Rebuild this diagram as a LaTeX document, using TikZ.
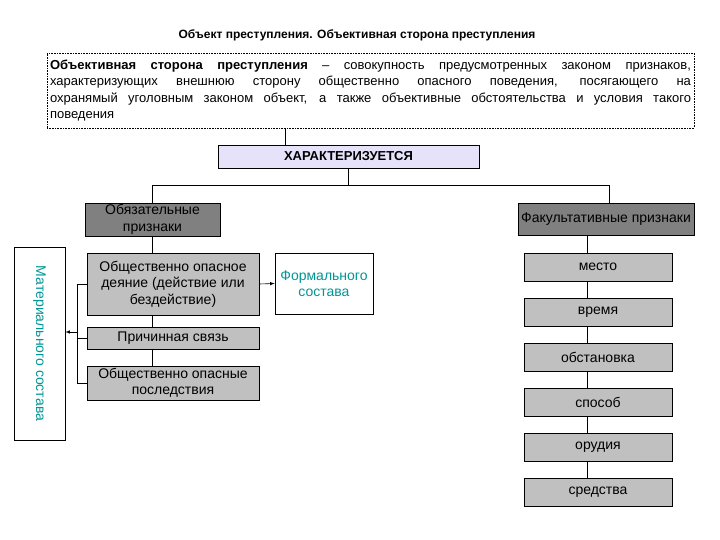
\documentclass[tikz,border=0pt]{standalone}
\usepackage{fontspec}
\setmainfont{Liberation Sans}
\usetikzlibrary{calc}
\definecolor{c1}{RGB}{128,128,128}
\definecolor{c2}{RGB}{192,192,192}
\definecolor{c3}{RGB}{230,226,250}
\definecolor{c4}{RGB}{0,150,150}
\tikzset{
  box/.style={draw=black,semithick,rectangle,inner sep=1pt,align=center,font=\fontsize{14}{16.5}\selectfont},
  darkbox/.style={box,fill=c1},
  lightbox/.style={box,fill=c2},
  tealbox/.style={box,fill=white,text=c4},
}

\begin{document}
\begin{tikzpicture}[x=1pt,y=-1pt]
    \useasboundingbox[fill=white] (0,0) rectangle (720,540);
    \node[font=\fontsize{12}{15}\selectfont\bfseries] (title) at (357,35) {Объект преступления. Объективная сторона преступления};
    % definition, dotted frame
    \node[draw=black,semithick,densely dotted,minimum width=647pt,minimum height=75pt,text width=641pt,align=justify,inner sep=2pt,
          font=\fontsize{13}{16.5}\selectfont] (def) at (370.5,90.5)
        {\textbf{Объективная сторона преступления} -- совокупность предусмотренных законом признаков,\linebreak
         характеризующих внешнюю сторону общественно опасного поведения, посягающего на\linebreak
         охранямый уголовным законом объект, а также объективные обстоятельства и условия такого\linebreak
         поведения};
    \node[box,fill=c3,minimum width=261pt,minimum height=23pt,font=\fontsize{13}{15}\selectfont\bfseries] (char) at (348.5,156.5) {ХАРАКТЕРИЗУЕТСЯ};
    \draw[semithick] ([xshift=-85.5pt]def.south) -- ([xshift=-85.5pt]def.south |- char.north);
    \coordinate (split) at (348.5,185);
    \draw[semithick] (char.south) -- (split);
    \node[darkbox,minimum width=135pt,minimum height=33pt] (oblig) at (152.5,219.5) {Обязательные\\признаки};
    \node[darkbox,minimum width=176pt,minimum height=32pt] (fac) at (606,219) {Факультативные признаки};
    \draw[semithick] (split) -| (oblig.north);
    \draw[semithick] (split) -| ([xshift=3pt]fac.north);

    \begin{scope} %left branch
        \node[lightbox,minimum width=172pt,minimum height=62pt] (deyanie) at (173,284) {Общественно опасное\\деяние (действие или\\бездействие)};
        \node[lightbox,minimum width=172pt,minimum height=22pt] (svyaz) at (173,338) {Причинная связь};
        \node[lightbox,minimum width=172pt,minimum height=34pt] (posled) at (173,383) {Общественно опасные\\последствия};
        \draw[semithick] (oblig.south) -- (oblig.south |- deyanie.north);
        \draw[semithick] (deyanie.south -| oblig.south) -- (svyaz.north -| oblig.south);
        \draw[semithick] (svyaz.south -| oblig.south) -- (posled.north -| oblig.south);
        \node[tealbox,minimum width=51pt,minimum height=193pt] (mat) at (39.5,343.5) {};
        \node[text=c4,rotate=-90,font=\fontsize{14}{16.5}\selectfont] (matlabel) at (mat.center) {Материального состава};
        \coordinate (brk) at (77,332);
        \draw[semithick] (deyanie.west) -- (deyanie.west -| brk) -- (posled.west -| brk) -- (posled.west);
        \draw[semithick] (svyaz.west) -- (svyaz.west -| brk);
        \draw[semithick,-latex] (brk) -- (brk -| mat.east);
        \node[tealbox,minimum width=98pt,minimum height=61pt] (formal) at (324,283.5) {Формального\\состава};
        \draw[semithick,-latex] (deyanie.east) -- (formal.west);
    \end{scope}

    \begin{scope} %right branch
        \foreach \name/\txt [count=\i] in {mesto/место,vremya/время,obstanovka/обстановка,sposob/способ,orudiya/орудия,sredstva/средства}
            \node[lightbox,minimum width=148pt,minimum height=28pt] (\name) at (598,{267+45*(\i-1)}) {\txt};
        \coordinate (rc) at ([xshift=-11pt]mesto.north);
        \draw[semithick] (fac.south -| rc) -- (rc);
        \foreach \a/\b in {mesto/vremya,vremya/obstanovka,obstanovka/sposob,sposob/orudiya,orudiya/sredstva}
            \draw[semithick] (\a.south -| rc) -- (\b.north -| rc);
    \end{scope}
\end{tikzpicture}
\end{document}
